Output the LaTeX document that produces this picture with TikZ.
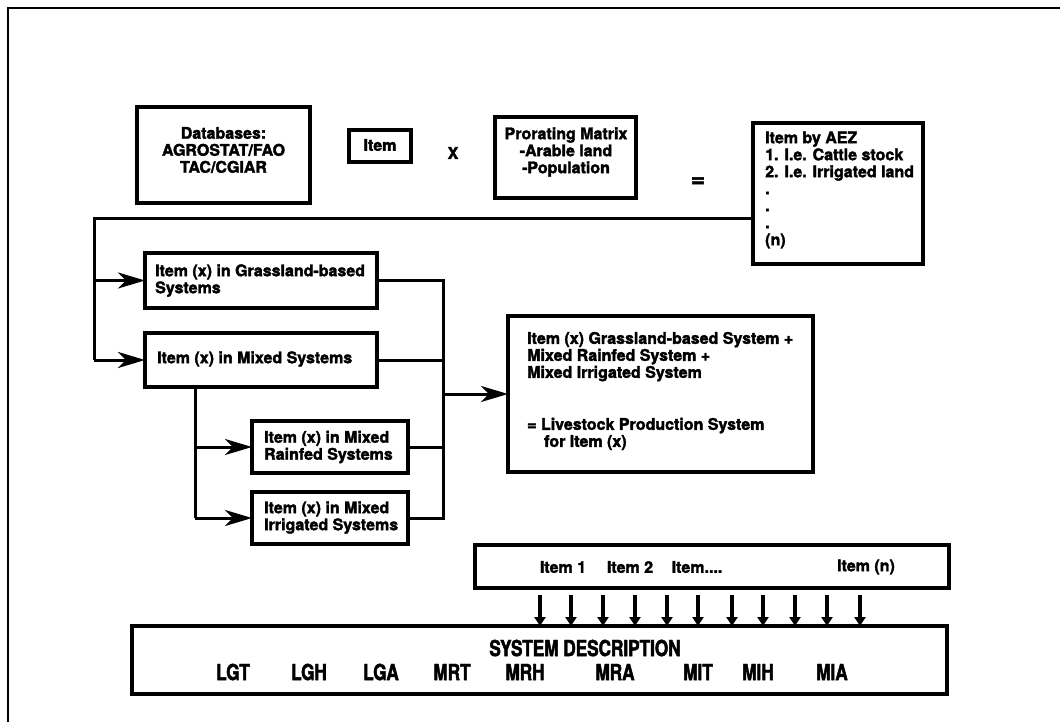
\documentclass[tikz,border=0pt]{standalone}
\usepackage{fontspec}
\setmainfont{TeX Gyre Heros}[BoldFeatures={FakeBold=2.2}]
\newfontfamily\condfont{TeX Gyre Heros}[FakeStretch=0.78,BoldFeatures={FakeBold=2.2}]
\usetikzlibrary{arrows.meta}
\begin{document}
\begin{tikzpicture}[x=1pt,y=-1pt,
  box/.style={draw, line width=3.2pt, inner sep=0pt, outer sep=0pt},
  lbl/.style={font=\bfseries\fontsize{16}{17}\selectfont, inner sep=0pt, align=left},
  clbl/.style={lbl, align=center},
  big/.style={font=\condfont\bfseries\fontsize{22}{24}\selectfont, inner sep=0pt},
  conn/.style={line width=3pt},
  arr/.style={conn, -{Stealth[length=27pt,width=16pt,inset=8pt]}},
  down/.style={line width=3.6pt, -{Triangle[length=9pt,width=11pt]}}]
\useasboundingbox (0,0) rectangle (1060,722);
% outer frame
\draw[line width=2.2pt] (8,722) -- (8,8) -- (1060,8);

% top row
\node[box, minimum width=173pt, minimum height=96pt] (db) at (223.5,155) {};
\node[clbl] (dbt) at (223.5,150) {Databases:\\AGROSTAT/FAO\\TAC/CGIAR};
\node[box, minimum width=62pt, minimum height=32pt] (item) at (380,146) {};
\node[lbl] (itemt) at (380,145) {Item};
\node[lbl] (times) at (453,153) {X};
\node[box, minimum width=141pt, minimum height=81pt] (pm) at (565.5,157.5) {};
\node[clbl] (pmt) at (566,152) {Prorating Matrix\\-Arable land\\-Population};
\node[lbl, font=\bfseries\fontsize{24}{24}\selectfont] (eq) at (698,182) {=};
\node[box, minimum width=170pt, minimum height=141pt] (aez) at (838,193.5) {};
\node[lbl, anchor=west] (aezt) at (765,190) {Item by AEZ\\1. I.e. Cattle stock\\2. I.e. Irrigated land\\.\\.\\.\\(n)};

% system boxes
\node[box, minimum width=232pt, minimum height=55pt] (grass) at (261,280.5) {};
\node[lbl, anchor=west] (grasst) at (155,280.5) {Item (x) in Grassland-based\\Systems};
\node[box, minimum width=232pt, minimum height=54pt] (mixed) at (261,360) {};
\node[lbl, anchor=west] (mixedt) at (157,359) {Item (x) in Mixed Systems};
\node[box, minimum width=156pt, minimum height=52pt] (rain) at (330,447) {};
\node[lbl, anchor=west] (raint) at (264,447) {Item (x) in Mixed\\Rainfed Systems};
\node[box, minimum width=156pt, minimum height=52pt] (irr) at (330,518) {};
\node[lbl, anchor=west] (irrt) at (264,517.5) {Item (x) in Mixed\\Irrigated Systems};
\node[box, minimum width=305pt, minimum height=156pt] (res) at (660.5,394) {};
\node[lbl, anchor=west] (rest) at (527,391) {Item (x) Grassland-based System +\\Mixed Rainfed System +\\Mixed Irrigated System\\[35pt]= Livestock Production System\\\hspace*{17pt}for Item (x)};

% connectors left
\coordinate (j1) at (94,219);
\draw[conn] (j1 -| aez.west) -- (j1) -- (j1 |- mixed.west);
\draw[arr] (j1 |- mixed.west) -- (mixed.west);
\draw[arr] (j1 |- grass.west) -- (grass.west);
\coordinate (j2) at (195,0);
\draw[conn] (j2 |- mixed.south) -- (j2 |- irr.west);
\draw[arr] (j2 |- irr.west) -- (irr.west);
\draw[arr] (j2 |- rain.west) -- (rain.west);
% collector right
\coordinate (j3) at (443,0);
\draw[conn] (grass.east) -- (j3 |- grass.east) -- (j3 |- irr.east) -- (irr.east);
\draw[conn] (mixed.east) -- (j3 |- mixed.east);
\draw[conn] (rain.east) -- (j3 |- rain.east);
\draw[arr] (j3 |- res.west) -- (res.west);

% bottom
\node[box, minimum width=474pt, minimum height=43pt] (items) at (712,566.5) {};
\node[lbl] (i1) at (563,567) {Item 1};
\node[lbl] (i2) at (630,567) {Item 2};
\node[lbl] (i3) at (697,567) {Item....};
\node[lbl] (in) at (866,567) {Item (n)};
\node[box, minimum width=815pt, minimum height=68pt] (sys) at (539.5,660) {};
\node[big] (sdt) at (585,648) {SYSTEM DESCRIPTION};
\foreach \c/\x in {LGT/233,LGH/309,LGA/381,MRT/452,MRH/525,MRA/615,MIT/698,MIH/758,MIA/832}
  \node[big] (c\c) at (\x,672) {\c};
\foreach \x in {540,571,603,635,667,698,732,763,795,827,860} {
  \coordinate (d) at (\x,0);
  \draw[down, shorten <=7pt] (items.south -| d) -- (sys.north -| d);
}
\end{tikzpicture}
\end{document}
